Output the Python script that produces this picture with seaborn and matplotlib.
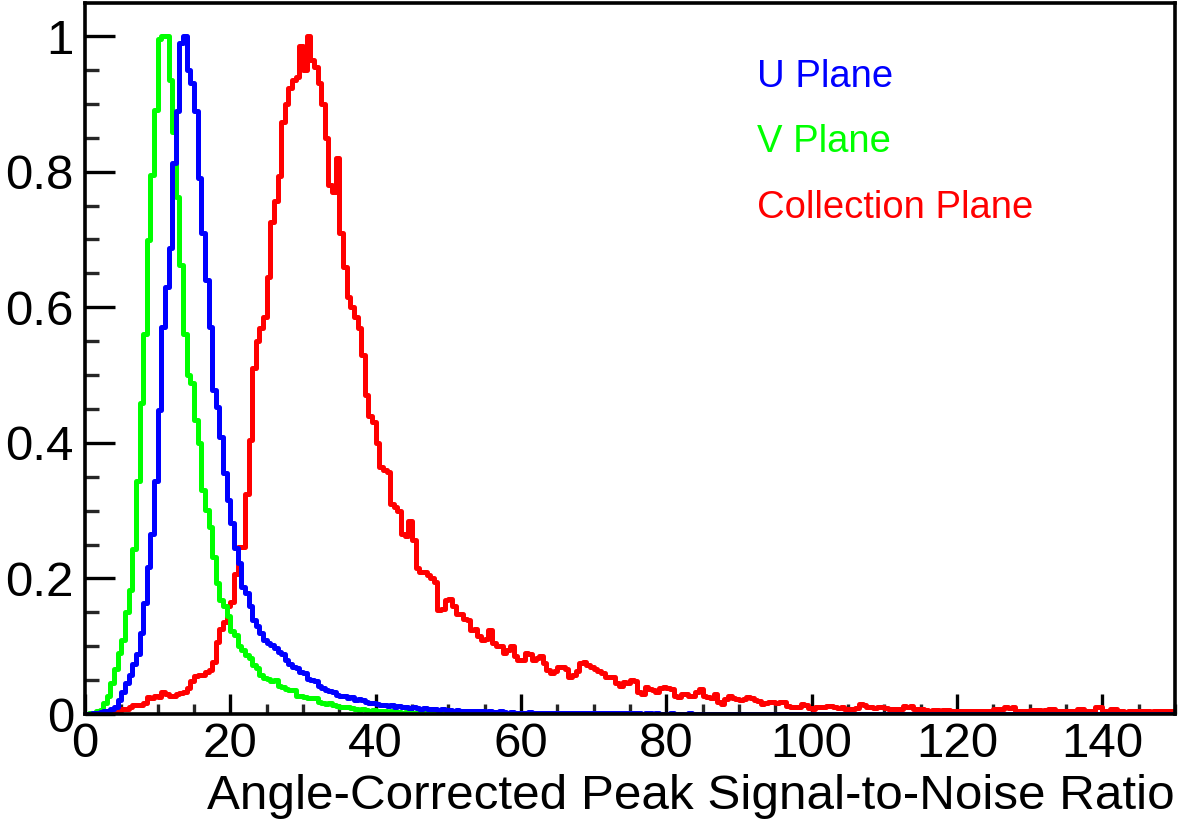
import numpy as np
import pandas as pd
import seaborn as sns
import matplotlib
matplotlib.use("Agg")
import matplotlib.pyplot as plt
from matplotlib.ticker import MultipleLocator, FuncFormatter

# ---------------- data (normalised counts, 0.5-wide bins from 0 to 150) ----------------
bin_lo, bin_hi, bin_w = 0.0, 150.0, 0.5

u_plane = [
    0.000, 0.000, 0.001, 0.001, 0.003, 0.004, 0.005, 0.007, 0.011, 0.020,
    0.033, 0.045, 0.057, 0.074, 0.089, 0.119, 0.163, 0.217, 0.266, 0.344,
    0.448, 0.571, 0.630, 0.687, 0.812, 0.890, 0.990, 1.000, 0.950, 0.930,
    0.890, 0.790, 0.710, 0.640, 0.571, 0.478, 0.453, 0.408, 0.355, 0.316,
    0.281, 0.245, 0.222, 0.188, 0.178, 0.160, 0.139, 0.130, 0.119, 0.109,
    0.104, 0.102, 0.098, 0.092, 0.088, 0.080, 0.074, 0.070, 0.068, 0.062,
    0.060, 0.052, 0.050, 0.048, 0.041, 0.039, 0.036, 0.034, 0.033, 0.028,
    0.026, 0.027, 0.024, 0.025, 0.021, 0.022, 0.020, 0.017, 0.016, 0.016,
    0.015, 0.013, 0.014, 0.012, 0.013, 0.011, 0.012, 0.010, 0.010, 0.009,
    0.010, 0.009, 0.008, 0.009, 0.008, 0.007, 0.008, 0.006, 0.007, 0.006,
    0.006, 0.005, 0.006, 0.005, 0.004, 0.005, 0.004, 0.004, 0.005, 0.004,
    0.003, 0.004, 0.003, 0.003, 0.004, 0.003, 0.002, 0.003, 0.002, 0.002,
    0.002, 0.002, 0.003, 0.002, 0.002, 0.001, 0.002, 0.001, 0.002, 0.001,
    0.001, 0.001, 0.002, 0.001, 0.001, 0.001, 0.001, 0.002, 0.001, 0.001,
    0.001, 0.001, 0.001, 0.001, 0.001, 0.001, 0.001, 0.001, 0.001, 0.001,
    0.001, 0.001, 0.001, 0.000, 0.001, 0.001, 0.000, 0.001, 0.000, 0.000,
    0.000, 0.001, 0.000, 0.000, 0.000, 0.000, 0.001, 0.000, 0.000, 0.000,
    0.000, 0.000, 0.000, 0.000, 0.000, 0.000, 0.000, 0.000, 0.000, 0.000,
    0.000, 0.000, 0.000, 0.000, 0.000, 0.000, 0.000, 0.000, 0.000, 0.000,
    0.000, 0.000, 0.000, 0.000, 0.000, 0.000, 0.000, 0.000, 0.000, 0.000,
    0.000, 0.000, 0.000, 0.000, 0.000, 0.000, 0.000, 0.000, 0.000, 0.000,
    0.000, 0.000, 0.000, 0.000, 0.000, 0.000, 0.000, 0.000, 0.000, 0.000,
    0.000, 0.000, 0.000, 0.000, 0.000, 0.000, 0.000, 0.000, 0.000, 0.000,
    0.000, 0.000, 0.000, 0.000, 0.000, 0.000, 0.000, 0.000, 0.000, 0.000,
    0.000, 0.000, 0.000, 0.000, 0.000, 0.000, 0.000, 0.000, 0.000, 0.000,
    0.000, 0.000, 0.000, 0.000, 0.000, 0.000, 0.000, 0.000, 0.000, 0.000,
    0.000, 0.000, 0.000, 0.000, 0.000, 0.000, 0.000, 0.000, 0.000, 0.000,
    0.000, 0.000, 0.000, 0.000, 0.000, 0.000, 0.000, 0.000, 0.000, 0.000,
    0.000, 0.000, 0.000, 0.000, 0.000, 0.000, 0.000, 0.000, 0.000, 0.000,
    0.000, 0.000, 0.000, 0.000, 0.000, 0.000, 0.000, 0.000, 0.000, 0.000,
]

v_plane = [
    0.000, 0.001, 0.002, 0.004, 0.006, 0.016, 0.026, 0.045, 0.067, 0.090,
    0.109, 0.151, 0.183, 0.244, 0.343, 0.458, 0.561, 0.699, 0.795, 0.891,
    0.995, 1.000, 1.000, 0.935, 0.859, 0.763, 0.662, 0.561, 0.500, 0.488,
    0.434, 0.399, 0.330, 0.301, 0.276, 0.232, 0.193, 0.168, 0.160, 0.144,
    0.122, 0.117, 0.100, 0.094, 0.087, 0.083, 0.072, 0.068, 0.057, 0.053,
    0.051, 0.049, 0.050, 0.041, 0.040, 0.037, 0.036, 0.035, 0.027, 0.026,
    0.025, 0.024, 0.023, 0.024, 0.018, 0.016, 0.015, 0.016, 0.013, 0.012,
    0.011, 0.010, 0.011, 0.009, 0.008, 0.006, 0.007, 0.006, 0.005, 0.006,
    0.004, 0.004, 0.005, 0.003, 0.004, 0.003, 0.003, 0.002, 0.003, 0.002,
    0.002, 0.002, 0.001, 0.002, 0.001, 0.001, 0.001, 0.001, 0.001, 0.001,
    0.001, 0.001, 0.000, 0.001, 0.000, 0.000, 0.001, 0.000, 0.000, 0.000,
    0.000, 0.000, 0.000, 0.000, 0.000, 0.000, 0.000, 0.000, 0.000, 0.000,
    0.000, 0.000, 0.000, 0.000, 0.000, 0.000, 0.000, 0.000, 0.000, 0.000,
    0.000, 0.000, 0.000, 0.000, 0.000, 0.000, 0.000, 0.000, 0.000, 0.000,
    0.000, 0.000, 0.000, 0.000, 0.000, 0.000, 0.000, 0.000, 0.000, 0.000,
    0.000, 0.000, 0.000, 0.000, 0.000, 0.000, 0.000, 0.000, 0.000, 0.000,
    0.000, 0.000, 0.000, 0.000, 0.000, 0.000, 0.000, 0.000, 0.000, 0.000,
    0.000, 0.000, 0.000, 0.000, 0.000, 0.000, 0.000, 0.000, 0.000, 0.000,
    0.000, 0.000, 0.000, 0.000, 0.000, 0.000, 0.000, 0.000, 0.000, 0.000,
    0.000, 0.000, 0.000, 0.000, 0.000, 0.000, 0.000, 0.000, 0.000, 0.000,
    0.000, 0.000, 0.000, 0.000, 0.000, 0.000, 0.000, 0.000, 0.000, 0.000,
    0.000, 0.000, 0.000, 0.000, 0.000, 0.000, 0.000, 0.000, 0.000, 0.000,
    0.000, 0.000, 0.000, 0.000, 0.000, 0.000, 0.000, 0.000, 0.000, 0.000,
    0.000, 0.000, 0.000, 0.000, 0.000, 0.000, 0.000, 0.000, 0.000, 0.000,
    0.000, 0.000, 0.000, 0.000, 0.000, 0.000, 0.000, 0.000, 0.000, 0.000,
    0.000, 0.000, 0.000, 0.000, 0.000, 0.000, 0.000, 0.000, 0.000, 0.000,
    0.000, 0.000, 0.000, 0.000, 0.000, 0.000, 0.000, 0.000, 0.000, 0.000,
    0.000, 0.000, 0.000, 0.000, 0.000, 0.000, 0.000, 0.000, 0.000, 0.000,
    0.000, 0.000, 0.000, 0.000, 0.000, 0.000, 0.000, 0.000, 0.000, 0.000,
    0.000, 0.000, 0.000, 0.000, 0.000, 0.000, 0.000, 0.000, 0.000, 0.000,
]

collection_plane = [
    0.000, 0.000, 0.000, 0.000, 0.001, 0.001, 0.001, 0.002, 0.003, 0.004,
    0.008, 0.008, 0.010, 0.013, 0.014, 0.013, 0.016, 0.025, 0.024, 0.026,
    0.025, 0.032, 0.030, 0.026, 0.027, 0.030, 0.031, 0.033, 0.038, 0.048,
    0.056, 0.057, 0.058, 0.062, 0.065, 0.077, 0.106, 0.125, 0.136, 0.160,
    0.165, 0.206, 0.247, 0.247, 0.325, 0.404, 0.510, 0.550, 0.570, 0.586,
    0.645, 0.725, 0.757, 0.793, 0.873, 0.900, 0.923, 0.935, 0.940, 0.985,
    0.950, 1.000, 0.965, 0.955, 0.930, 0.900, 0.850, 0.780, 0.770, 0.820,
    0.710, 0.660, 0.615, 0.600, 0.585, 0.570, 0.530, 0.470, 0.440, 0.430,
    0.400, 0.365, 0.360, 0.357, 0.310, 0.305, 0.300, 0.265, 0.262, 0.285,
    0.256, 0.215, 0.210, 0.210, 0.205, 0.200, 0.195, 0.153, 0.155, 0.168,
    0.170, 0.160, 0.147, 0.148, 0.140, 0.138, 0.124, 0.125, 0.115, 0.109,
    0.110, 0.124, 0.105, 0.100, 0.100, 0.090, 0.095, 0.100, 0.085, 0.080,
    0.080, 0.090, 0.088, 0.080, 0.083, 0.085, 0.075, 0.065, 0.060, 0.064,
    0.070, 0.069, 0.067, 0.055, 0.058, 0.064, 0.075, 0.077, 0.072, 0.070,
    0.066, 0.063, 0.060, 0.055, 0.054, 0.055, 0.045, 0.042, 0.047, 0.046,
    0.050, 0.048, 0.033, 0.030, 0.040, 0.037, 0.035, 0.032, 0.038, 0.040,
    0.038, 0.037, 0.027, 0.025, 0.030, 0.030, 0.027, 0.027, 0.032, 0.037,
    0.026, 0.025, 0.024, 0.030, 0.018, 0.015, 0.022, 0.027, 0.024, 0.022,
    0.021, 0.022, 0.025, 0.024, 0.020, 0.019, 0.015, 0.016, 0.017, 0.018,
    0.016, 0.017, 0.017, 0.012, 0.010, 0.011, 0.010, 0.015, 0.014, 0.009,
    0.008, 0.010, 0.011, 0.010, 0.012, 0.012, 0.010, 0.009, 0.010, 0.008,
    0.007, 0.008, 0.009, 0.015, 0.014, 0.010, 0.011, 0.009, 0.010, 0.010,
    0.009, 0.008, 0.007, 0.008, 0.008, 0.012, 0.011, 0.012, 0.008, 0.007,
    0.008, 0.006, 0.005, 0.006, 0.006, 0.005, 0.006, 0.006, 0.005, 0.005,
    0.005, 0.004, 0.005, 0.004, 0.004, 0.005, 0.004, 0.004, 0.005, 0.004,
    0.008, 0.008, 0.007, 0.010, 0.009, 0.010, 0.005, 0.005, 0.004, 0.005,
    0.006, 0.006, 0.006, 0.005, 0.006, 0.008, 0.008, 0.005, 0.004, 0.005,
    0.004, 0.005, 0.004, 0.008, 0.008, 0.005, 0.004, 0.005, 0.010, 0.010,
    0.004, 0.004, 0.008, 0.007, 0.004, 0.004, 0.003, 0.004, 0.005, 0.005,
    0.004, 0.004, 0.004, 0.003, 0.004, 0.004, 0.005, 0.004, 0.004, 0.005,
]

series_names = ["U Plane", "V Plane", "Collection Plane"]
series_colors = {"U Plane": "#0000ff", "V Plane": "#00ff00", "Collection Plane": "#ff0000"}
x_title = "Angle-Corrected Peak Signal-to-Noise Ratio"

# ---------------- build the table ----------------
n_bins = len(u_plane)
centers = bin_lo + bin_w * (np.arange(n_bins) + 0.5)
df = pd.concat([
    pd.DataFrame({"snr": centers, "w": u_plane, "plane": "U Plane"}),
    pd.DataFrame({"snr": centers, "w": v_plane, "plane": "V Plane"}),
    pd.DataFrame({"snr": centers, "w": collection_plane, "plane": "Collection Plane"}),
], ignore_index=True)

# ---------------- style ----------------
sns.set_theme(style="white")
plt.rcParams["font.family"] = ["Liberation Sans", "DejaVu Sans"]

fig = plt.figure(figsize=(11.88, 8.25), dpi=100)
ax = fig.add_axes([85 / 1188, 1 - 714 / 825, 1090 / 1188, 711 / 825])

# draw order: collection, V, U (U on top)
for name in ["Collection Plane", "V Plane", "U Plane"]:
    sub = df[df["plane"] == name]
    sns.histplot(data=sub, x="snr", weights="w", binwidth=bin_w,
                 binrange=(bin_lo, bin_hi), element="step",
                 fill=False, color=series_colors[name], linewidth=3.6, ax=ax)

ax.set_xlim(0, 150)
ax.set_ylim(0, 1.0487)

ax.xaxis.set_major_locator(MultipleLocator(20))
ax.xaxis.set_minor_locator(MultipleLocator(5))
ax.yaxis.set_major_locator(MultipleLocator(0.2))
ax.yaxis.set_minor_locator(MultipleLocator(0.05))


def yfmt(v, pos):
    s = f"{v:.1f}"
    if s.endswith(".0"):
        s = s[:-2]
    return s


ax.yaxis.set_major_formatter(FuncFormatter(yfmt))
ax.xaxis.set_major_formatter(FuncFormatter(lambda v, p: f"{int(round(v))}"))

for sp in ax.spines.values():
    sp.set_linewidth(2.6)
    sp.set_color("black")
    sp.set_visible(True)

ax.tick_params(axis="y", which="major", direction="in", length=21.6, width=2.4,
               labelsize=35.5, pad=8, left=True, right=False, colors="black")
ax.tick_params(axis="y", which="minor", direction="in", length=10, width=2.4,
               left=True, right=False)
ax.tick_params(axis="x", which="major", direction="in", length=14.4, width=2.4,
               labelsize=35.5, pad=6, bottom=True, top=False, colors="black")
ax.tick_params(axis="x", which="minor", direction="in", length=7, width=2.4,
               bottom=True, top=False)

ax.set_ylabel("")
ax.set_xlabel(x_title, fontsize=35.6, loc="right", labelpad=5, color="black")

# legend as coloured text, as in the original
legend_y = [0.896, 0.805, 0.711]
for name, yy in zip(series_names, legend_y):
    ax.text(0.6165, yy, name, transform=ax.transAxes, color=series_colors[name],
            fontsize=27.5, ha="left", va="center")

fig.savefig("out.png", dpi=100, facecolor="white")
